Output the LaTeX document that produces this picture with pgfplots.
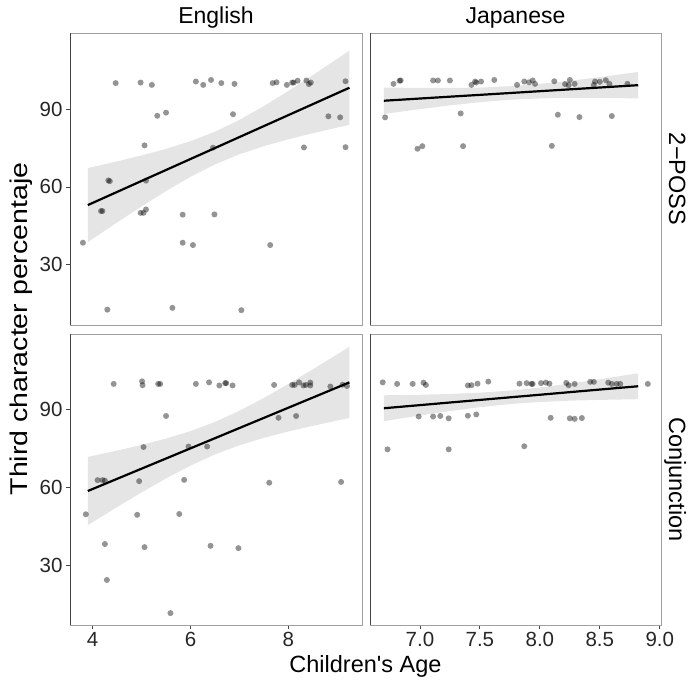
\documentclass[border=0pt]{standalone}
\usepackage{pgfplots}
\pgfplotsset{compat=1.18}
\usepackage{pgfplotstable}
\usepgfplotslibrary{fillbetween}
\usepackage{graphicx}
\usepackage{fontspec}
\setmainfont{Liberation Sans}
\newfontfamily\rotfont{Liberation Sans}
\newfontfamily\plainfont{Liberation Sans}[Ligatures=TeXOff]
\definecolor{frameL}{RGB}{160,160,160}
\definecolor{frameD}{RGB}{70,70,70}

% ---- points ----
\pgfplotstableread{
x y
3.80 38.5
4.30 12.7
4.47 100.0
4.17 50.7
4.20 50.7
4.32 62.5
4.35 62.2
4.98 100.2
5.21 99.3
5.06 76.0
4.98 50.0
5.04 50.0
5.09 51.3
5.09 62.4
5.32 87.4
5.50 88.6
5.63 13.4
5.84 49.3
5.84 38.5
6.05 37.6
6.11 100.6
6.26 99.3
6.42 101.2
6.46 75.1
6.49 49.4
6.63 100.0
6.87 88.0
6.90 99.7
7.04 12.5
7.63 37.6
7.68 100.0
7.76 100.3
7.97 99.3
8.08 100.2
8.11 100.2
8.19 100.9
8.32 75.2
8.37 101.0
8.42 99.6
8.46 100.2
8.82 87.2
9.06 86.8
9.17 100.7
9.17 75.3
}\ptsEP
\pgfplotstableread{
x y
6.71 86.8
6.78 99.7
6.83 100.9
6.84 101.0
6.98 74.7
7.02 75.7
7.11 101.0
7.15 101.0
7.25 101.0
7.34 88.3
7.36 75.7
7.43 99.3
7.46 100.6
7.47 100.2
7.51 100.6
7.62 101.2
7.81 99.3
7.87 100.6
7.91 100.3
7.94 101.0
7.96 99.7
8.10 75.8
8.12 100.7
8.15 87.8
8.21 99.6
8.24 99.2
8.25 101.2
8.29 99.7
8.33 86.9
8.45 99.3
8.46 100.6
8.50 100.5
8.55 101.1
8.58 99.7
8.60 87.3
8.73 99.7
}\ptsJP
\pgfplotstableread{
x y
3.86 49.6
4.10 62.8
4.20 62.8
4.25 62.6
4.25 38.1
4.29 24.2
4.43 100.0
4.91 49.4
4.95 62.4
5.01 101.0
5.02 99.5
5.04 75.6
5.06 36.9
5.34 100.0
5.38 100.0
5.50 87.6
5.59 11.4
5.77 49.7
5.87 62.9
5.96 75.8
6.11 100.0
6.34 75.8
6.38 100.6
6.41 37.4
6.59 99.4
6.71 100.3
6.73 100.3
6.86 99.4
6.98 36.5
7.61 61.8
7.71 99.6
7.80 86.9
8.08 99.6
8.13 99.6
8.16 87.6
8.22 100.6
8.31 99.4
8.36 99.6
8.45 100.5
8.45 99.4
8.86 99.0
9.08 62.1
9.11 99.7
9.20 99.2
}\ptsEC
\pgfplotstableread{
x y
6.69 100.6
6.73 74.7
6.81 100.0
6.94 100.0
6.99 87.4
7.03 100.5
7.05 99.6
7.11 87.4
7.17 87.6
7.24 74.7
7.24 86.7
7.40 87.7
7.40 99.4
7.43 99.5
7.47 88.2
7.48 100.1
7.57 100.9
7.83 100.1
7.87 75.9
7.89 100.3
7.93 100.0
7.94 100.0
8.01 100.3
8.05 100.5
8.08 100.1
8.09 86.9
8.22 100.4
8.24 99.5
8.29 100.0
8.25 86.7
8.29 86.5
8.35 86.8
8.42 100.8
8.45 100.8
8.57 100.5
8.60 100.0
8.64 100.0
8.67 100.0
8.90 100.0
}\ptsJC

% ---- fitted line and confidence band ----
\pgfplotstableread{
x f u l
3.90 53.00 67.27 38.73
4.50 58.07 69.83 46.31
5.00 62.30 72.12 52.48
5.50 66.52 74.64 58.40
6.00 70.75 77.62 63.88
6.50 74.97 81.28 68.66
7.00 79.20 85.83 72.57
7.50 83.42 91.14 75.70
8.00 87.65 96.96 78.34
8.50 91.87 103.07 80.67
9.00 96.10 109.35 82.85
9.25 98.21 112.52 83.90
}\fitEP
\pgfplotstableread{
x f u l
3.90 58.60 71.79 45.41
4.50 63.31 74.23 52.39
5.00 67.24 76.43 58.05
5.50 71.16 78.87 63.45
6.00 75.09 81.77 68.41
6.50 79.01 85.30 72.72
7.00 82.94 89.62 76.26
7.50 86.86 94.57 79.15
8.00 90.79 99.98 81.60
8.50 94.71 105.63 83.79
9.00 98.64 111.45 85.83
9.25 100.60 114.38 86.82
}\fitEC
\pgfplotstableread{
x f u l
6.70 93.20 98.30 88.10
7.00 94.05 98.13 89.97
7.25 94.76 98.11 91.41
7.50 95.46 98.27 92.65
7.75 96.17 98.77 93.57
8.00 96.88 99.66 94.10
8.25 97.59 100.89 94.29
8.50 98.29 102.30 94.28
8.82 99.20 104.30 94.10
}\fitJP
\pgfplotstableread{
x f u l
6.70 90.60 95.60 85.60
7.00 91.80 95.80 87.80
7.25 92.81 96.11 89.51
7.50 93.81 96.61 91.01
7.75 94.81 97.41 92.21
8.00 95.81 98.61 93.01
8.25 96.82 100.12 93.52
8.50 97.82 101.82 93.82
8.82 99.10 104.10 94.10
}\fitJC

\pgfplotsset{
  facet/.style={
    scale only axis, width=292pt, height=292pt,
    ymin=6.8, ymax=119.3,
    axis line style={frameL, line width=0.8pt},
    tick style={frameD, line width=0.8pt},
    tick align=outside, major tick length=4pt,
    xtick pos=bottom, ytick pos=left,
    ticklabel style={font=\fontsize{20.5}{20.5}\selectfont, text=black!85},
    ytick={30,60,90}, yticklabels={30,60,90},
    minor tick num=0,
  },
  english/.style={xmin=3.536, xmax=9.507, xtick={4,6,8}, xticklabels={4,6,8}},
  japanese/.style={xmin=6.584, xmax=9.01, xtick={7,7.5,8,8.5,9}, xticklabels={7.0,7.5,8.0,8.5,9.0}},
  pts/.style={only marks, mark=*, mark size=3pt,
    mark options={draw opacity=0, line width=0pt, fill=black, fill opacity=0.42}},
}

\newcommand{\panel}[2]{%
  \addplot[pts] table[x=x,y=y]{#1};
  \addplot[draw=none, name path=up, forget plot] table[x=x,y=u]{#2};
  \addplot[draw=none, name path=lo, forget plot] table[x=x,y=l]{#2};
  \addplot[fill=black!40, fill opacity=0.25, draw=none] fill between[of=up and lo];
  \addplot[black, line width=2.2pt] table[x=x,y=f]{#2};
  \draw[frameD, line width=0.9pt] (rel axis cs:0,1) -- (rel axis cs:0,0) -- (rel axis cs:1,0);
}

\begin{document}
\begin{tikzpicture}
\path (0,0) rectangle (691pt,680pt);

% top-left: English / 2-POSS
\begin{axis}[facet, english, at={(70pt,355pt)}, anchor=south west, xmajorticks=false]
\panel{\ptsEP}{\fitEP}
\end{axis}
% top-right: Japanese / 2-POSS
\begin{axis}[facet, japanese, at={(370pt,355pt)}, anchor=south west, width=291pt, xmajorticks=false, ymajorticks=false]
\panel{\ptsJP}{\fitJP}
\end{axis}
% bottom-left: English / Conjunction
\begin{axis}[facet, english, at={(70pt,55pt)}, anchor=south west, height=291pt]
\panel{\ptsEC}{\fitEC}
\end{axis}
% bottom-right: Japanese / Conjunction
\begin{axis}[facet, japanese, at={(370pt,55pt)}, anchor=south west, width=291pt, height=291pt, ymajorticks=false]
\panel{\ptsJC}{\fitJC}
\end{axis}

% strip labels
\node[anchor=base, font=\fontsize{23}{23}\selectfont] at (216pt,656pt) {English};
\node[anchor=base, font=\fontsize{23}{23}\selectfont] at (515.5pt,656pt) {Japanese};
\node[rotate=-90, anchor=base] at (669pt,501pt) {\rotfont\fontsize{23.5}{23.5}\selectfont 2−POSS};
\node[rotate=-90, anchor=base] at (669pt,200.5pt) {\rotfont\fontsize{23.5}{23.5}\selectfont Conjunction};

% axis titles
\node[rotate=90, anchor=base] at (27pt,351pt) {\rotfont\fontsize{28.5}{28.5}\selectfont\scalebox{1}[0.85]{Third character percentaje}};
\node[anchor=base] at (365.5pt,7pt) {\plainfont\fontsize{23.5}{23.5}\selectfont Children's Age};
\end{tikzpicture}
\end{document}
